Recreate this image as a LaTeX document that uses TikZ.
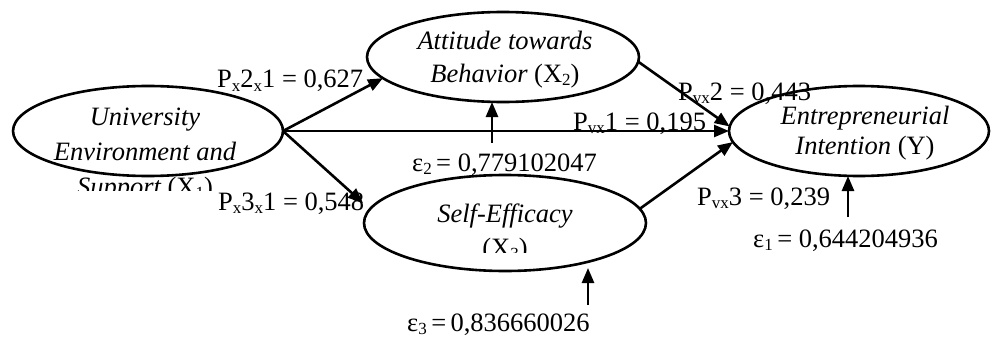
\documentclass[tikz,border=0pt]{standalone}
\usepackage{fontspec}
\setmainfont{Liberation Serif}
\usetikzlibrary{arrows.meta,shapes.geometric}
\newcommand\lo[1]{\raisebox{-0.12em}{\fontsize{17pt}{17pt}\selectfont #1}}
\begin{document}
\begin{tikzpicture}[x=1pt,y=-1pt,
  lat/.style={ellipse, draw, line width=2.6pt, inner sep=0pt, outer sep=0pt},
  arr/.style={line width=2.6pt, -{Triangle[length=15pt,width=12pt]}},
  lbl/.style={inner sep=0pt, anchor=base west, font=\fontsize{26.5pt}{32pt}\selectfont},
  txt/.style={inner sep=0pt, anchor=base, font=\fontsize{26.5pt}{32pt}\selectfont}]
\useasboundingbox (0,0) rectangle (993,337);
% latent variables
\node[lat, minimum width=270pt, minimum height=90pt] (uni) at (148,131) {};
\node[lat, minimum width=272pt, minimum height=90pt] (att) at (503,57) {};
\node[lat, minimum width=282pt, minimum height=96pt] (sef) at (505,223) {};
\node[lat, minimum width=260pt, minimum height=90pt] (ent) at (859,131) {};
% texts in ellipses
\begin{scope}
\clip (0,0) rectangle (993,190);
\node[txt] (u1) at (145,125) {\itshape University};
\node[txt] (u2) at (145,160) {\itshape Environment and};
\node[txt] (u3) at (145,195) {\itshape Support\upshape{} (X\lo{1})};
\end{scope}
\node[txt] (a1) at (505,50) {\itshape Attitude towards};
\node[txt] (a2) at (505,82) {\itshape Behavior\upshape{} (X\lo{2})};
\begin{scope}
\clip (0,0) rectangle (993,252);
\node[txt] (s1) at (505,222) {\itshape Self-Efficacy};
\node[txt] (s2) at (505,256) {(X\lo{3})};
\end{scope}
\node[txt] (e1t) at (865,124) {\itshape Entrepreneurial};
\node[txt] (e2t) at (865,154) {\itshape Intention\upshape{} (Y)};
% path labels
\node[lbl] (l1) at (217,88) {P\lo{x}2\lo{x}1 = 0,627};
\node[lbl] (l2) at (218,210) {P\lo{x}3\lo{x}1 = 0,548};
\node[lbl] (l3) at (678,100) {P\lo{vx}2 = 0,443};
\node[lbl] (l4) at (573,130) {P\lo{vx}1 = 0,195};
\node[lbl] (l5) at (697,205) {P\lo{vx}3 = 0,239};
\node[lbl] (r2) at (412,171) {ε\lo{2}\,= 0,779102047};
\node[lbl] (r1) at (753,247) {ε\lo{1}\,= 0,644204936};
\node[lbl] (r3) at (407,331) {ε\lo{3}\,=\,0,836660026};
% coordinates
\coordinate (sefend) at (363,203);
\coordinate (e2s) at (492,143);
\coordinate (e1s) at (848,217);
\coordinate (e3s) at (588,305);
\coordinate (e3e) at (588,268);
% connectors
\draw[arr] (uni.east) -- (att.190);
\draw[arr] (uni.east) -- (sefend);
\draw[arr] (uni.east) -- (uni.east -| ent.west);
\draw[arr] (att.358) -- (ent.178.5);
\draw[arr] (sef.6) -- (ent.185);
\draw[arr] (e2s) -- (e2s |- att.south);
\draw[arr] (e1s) -- (e1s |- ent.south);
\draw[arr] (e3s) -- (e3e);
\end{tikzpicture}
\end{document}
